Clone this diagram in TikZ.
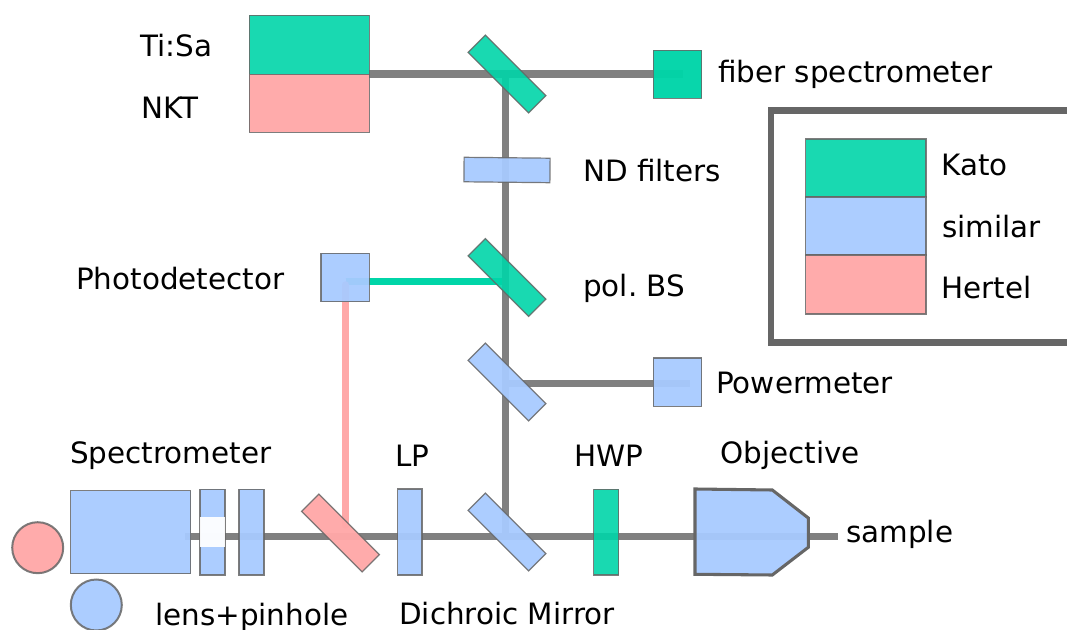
\documentclass[tikz,border=0pt]{standalone}
\usepackage{fontspec}
\setmainfont{DejaVu Sans}
\usetikzlibrary{backgrounds}
\definecolor{tealc}{HTML}{00D5A8}
\definecolor{bluec}{HTML}{A8CAFF}
\definecolor{pinkc}{HTML}{FFA8A8}
\definecolor{edgec}{HTML}{666666}
\definecolor{beamc}{HTML}{808080}
\tikzset{
  part/.style={draw=edgec,draw opacity=0.85,line width=0.9pt,fill opacity=0.9,inner sep=0,outer sep=0},
  sized/.style 2 args={minimum width=#1*0.75pt,minimum height=#2*0.75pt},
  teal part/.style={part,fill=tealc},
  blue part/.style={part,fill=bluec,fill opacity=0.95},
  pink part/.style={part,fill=pinkc,fill opacity=0.97},
  mirror/.style={sized={85.6}{24.5},rotate=-45},
  label/.style={anchor=base west,inner sep=0,font=\fontsize{22.05}{26}\selectfont,text=black},
  beam/.style={line width=5.5pt,draw=beamc},
  color beam/.style={line width=5.6pt,line cap=round},
}
\begin{document}
\begin{tikzpicture}[x=0.75pt,y=-0.75pt]
\useasboundingbox (0,0) rectangle (1067,630);
\clip (0,0) rectangle (1067,630);
% sources
\node[teal part,sized={120}{59},anchor=north west] (tisa) at (249.3,15.2) {};
\node[pink part,sized={120}{58},anchor=north west] (nkt) at (249.3,74.2) {};
% mirrors
\node[teal part,mirror] (m1) at (507,74) {};
\node[teal part,mirror] (pbs) at (507,277.5) {};
\node[blue part,mirror] (m3) at (507,382) {};
\node[blue part,mirror] (dm) at (507,532) {};
\node[pink part,mirror] (pm) at (340.5,533) {};
\node[blue part,sized={86}{24.5},rotate=-0.6] (nd) at (507,170) {};
% detectors
\node[teal part,fill opacity=0.97,sized={48.4}{48}] (fs) at (677.5,74.3) {};
\node[blue part,sized={48.4}{48.3}] (pw) at (677.5,382.2) {};
\node[blue part,sized={48.4}{48.3}] (pd) at (345.2,277.5) {};
% lower row
\node[blue part,sized={120}{83},anchor=north west] (spec) at (70.7,490.7) {};
\node[blue part,sized={25}{85.5},anchor=north west] (ph) at (200,489.5) {};
\node[draw=none,fill=white,fill opacity=0.94,inner sep=0,sized={25}{30},anchor=north west] (hole) at (200,517) {};
\node[blue part,sized={25}{85.5},anchor=north west] (lens) at (239,489.5) {};
\node[blue part,sized={24.5}{86},anchor=north west] (lp) at (397.5,489) {};
\node[teal part,sized={25}{85.7},anchor=north west] (hwp) at (593.7,489.3) {};
% objective
\draw[draw=edgec,line width=2.3pt,fill=bluec,fill opacity=0.95] (695,489) -- (772.3,490) -- (808.3,518) -- (808.3,547.3) -- (772.3,575) -- (695,574.3) -- cycle;
% circles
\node[pink part,circle,draw=edgec,line width=1.5pt,minimum size=51*0.75pt] (cp) at (37.7,547.7) {};
\node[blue part,circle,draw=edgec,line width=1.5pt,minimum size=51*0.75pt] (cb) at (96.3,605) {};
% legend
\draw[draw=edgec,line width=5.2pt] (1080,110.5) -- (771,110.5) -- (771,342.5) -- (1080,342.5);
\node[teal part,sized={120.5}{58},anchor=north west] (lk) at (805.5,139) {};
\node[blue part,sized={120.5}{58},anchor=north west] (ls) at (805.5,197) {};
\node[pink part,sized={120.5}{59},anchor=north west] (lh) at (805.5,255) {};
% free ends of beams
\coordinate (fsend) at (683,74);
\coordinate (pwend) at (690,383.3);
\coordinate (sampleend) at (837.5,536.3);
\coordinate (specend) at (185,536.3);
\coordinate (corner) at (505.7,74);
\coordinate (bottom) at (505.7,536.3);
\coordinate (tap) at (505.7,383.3);
\coordinate (pbstap) at (502,281.7);
\coordinate (pdturn) at (345.7,285);
\coordinate (pmhit) at (345.7,525);
\coordinate (srcout) at (369,74);
% beams
\begin{scope}[on background layer]
\draw[beam,line width=6pt] (srcout) -- (fsend);
\draw[beam] (corner) -- (bottom);
\draw[beam] (tap) -- (pwend);
\draw[beam] (specend) -- (sampleend);
\draw[color beam,draw=tealc,line cap=butt] (pdturn |- pbstap) -- (pbstap);
\draw[color beam,draw=pinkc] (pdturn) -- (pmhit);
\end{scope}
% labels
\node[label] (t1) at (140,57) {Ti:Sa};
\node[label] (t2) at (141.5,119) {NKT};
\node[label] (t3) at (718,83) {fiber spectrometer};
\node[label] (t4) at (583,182) {ND filters};
\node[label] (t5) at (583,297) {pol.\ BS};
\node[label] (t6) at (76,290) {Photodetector};
\node[label] (t7) at (716,394) {Powermeter};
\node[label] (t8) at (70,464) {Spectrometer};
\node[label] (t9) at (395,467) {LP};
\node[label] (t10) at (574,467) {HWP};
\node[label] (t11) at (720,464) {Objective};
\node[label] (t12) at (846,542) {sample};
\node[label] (t13) at (155,625) {lens+pinhole};
\node[label] (t14) at (399,624) {Dichroic Mirror};
\node[label] (t15) at (941,176) {Kato};
\node[label] (t16) at (942,238) {similar};
\node[label] (t17) at (941,299) {Hertel};
\end{tikzpicture}
\end{document}
